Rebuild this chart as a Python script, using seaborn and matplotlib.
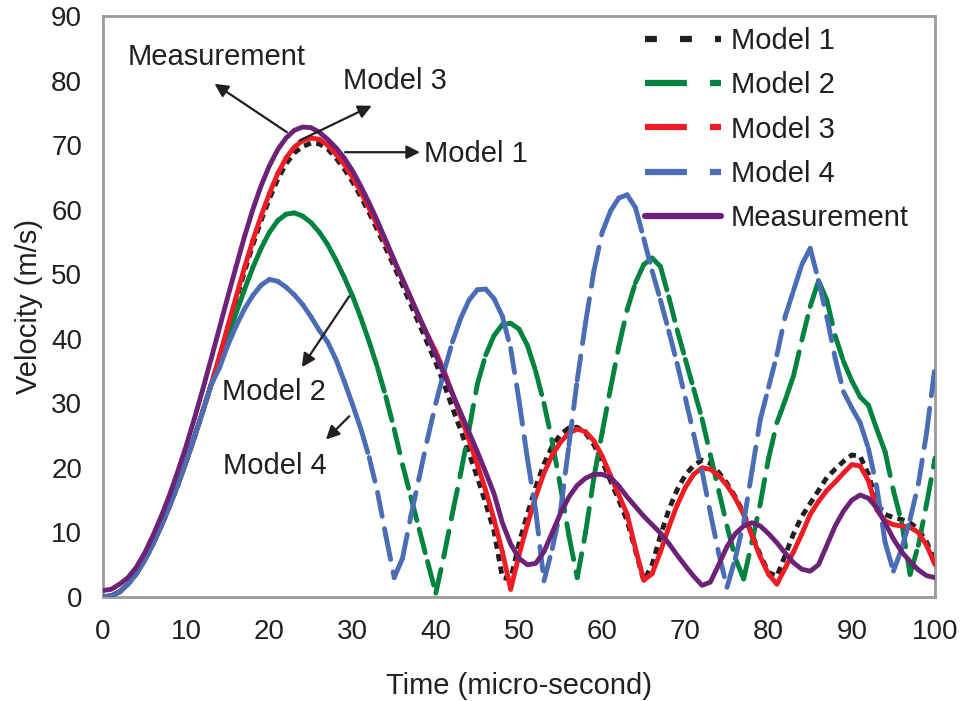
import matplotlib
matplotlib.use("Agg")
import matplotlib.pyplot as plt
from matplotlib.lines import Line2D
import pandas as pd
import seaborn as sns

# ---------------- data ----------------
time_us = list(range(0, 101))

model1 = [0, 0.2, 0.8, 2.0, 3.6, 5.7, 8.2, 11.0, 14.1, 17.4, 21.0, 24.8, 28.8, 32.9,
          37.0, 41.5, 46.0, 50.4, 54.5, 58.3, 61.7, 64.7, 67.1, 68.8, 69.8, 70.3, 70.2,
          69.4, 68.0, 66.3, 64.3, 62.0, 59.5, 56.8, 54.0, 51.2, 48.3, 45.3, 42.3, 39.3,
          36.3, 33.0, 29.3, 25.8, 22.2, 18.5, 14.5, 10.2, 3.0, 2.8, 8.3, 12.8, 17.0,
          20.6, 23.4, 25.2, 26.2, 26.3, 25.4, 23.6, 21.0, 18.0, 15.0, 11.8, 7.2, 2.5,
          5.0, 9.5, 13.5, 16.6, 18.9, 20.4, 21.2, 20.7, 19.3, 17.6, 15.5, 13.0, 9.7,
          6.5, 3.8, 3.2, 6.5, 9.8, 12.5, 14.5, 16.5, 18.5, 19.8, 21.0, 22.0, 21.8,
          19.0, 14.5, 12.8, 12.3, 12.0, 11.5, 10.5, 8.5, 5.5]

model2 = [0, 0.2, 0.8, 2.0, 3.6, 5.7, 8.2, 11.0, 14.1, 17.4, 21.0, 24.8, 28.8, 32.9,
          36.2, 40.2, 44.0, 47.6, 51.0, 54.0, 56.5, 58.3, 59.3, 59.5, 59.0, 58.0, 56.5,
          54.6, 52.2, 49.5, 46.6, 43.2, 39.5, 35.5, 31.0, 26.0, 20.5, 15.5, 10.5, 5.5,
          0.6, 6.5, 13.0, 19.2, 26.0, 33.0, 37.5, 40.5, 42.2, 42.4, 41.5, 39.0, 35.0,
          30.0, 24.0, 17.0, 9.5, 3.0, 10.0, 18.5, 25.5, 32.3, 38.8, 44.5, 48.7, 51.5,
          52.5, 51.2, 46.5, 41.4, 36.8, 32.2, 27.6, 22.0, 16.5, 11.0, 6.0, 2.8, 8.5,
          14.5, 21.5, 27.0, 30.5, 34.3, 39.8, 45.0, 49.0, 46.0, 40.5, 36.5, 33.5, 31.0,
          29.7, 26.0, 22.5, 16.5, 11.5, 3.5, 8.0, 14.5, 21.5]

model3 = [0, 0.2, 0.8, 2.0, 3.6, 5.7, 8.2, 11.0, 14.1, 17.4, 21.0, 24.8, 28.8, 32.9,
          37.3, 41.9, 46.5, 51.0, 55.2, 59.0, 62.5, 65.6, 68.0, 69.7, 70.7, 71.1, 70.9,
          70.0, 68.6, 67.0, 65.0, 62.7, 60.2, 57.5, 54.8, 52.0, 49.2, 46.3, 43.3, 40.6,
          38.0, 35.0, 31.5, 28.0, 24.3, 20.5, 16.5, 12.0, 7.0, 1.2, 6.5, 11.2, 15.5,
          19.2, 22.0, 24.0, 25.4, 26.0, 25.6, 24.2, 21.8, 18.8, 15.8, 12.8, 7.5, 2.6,
          3.6, 7.0, 10.8, 14.2, 17.0, 19.0, 20.0, 19.8, 18.8, 17.3, 15.3, 12.8, 9.5,
          6.2, 3.5, 2.0, 4.5, 7.0, 9.8, 12.8, 14.8, 16.5, 17.8, 19.2, 20.5, 20.3,
          18.0, 13.5, 11.8, 11.2, 11.0, 10.8, 10.0, 8.0, 5.0]

model4 = [0, 0.2, 0.8, 2.0, 3.6, 5.7, 8.2, 11.0, 14.1, 17.4, 21.0, 24.8, 28.8, 32.9,
          35.5, 39.0, 42.0, 44.6, 46.7, 48.3, 49.2, 48.9, 48.0, 46.8, 45.3, 43.4, 41.3,
          39.5, 36.8, 33.4, 29.8, 26.0, 21.6, 16.2, 9.5, 3.0, 6.0, 12.5, 18.5, 24.5,
          30.0, 35.0, 39.5, 43.2, 46.0, 47.6, 47.7, 46.2, 43.5, 38.5, 30.5, 21.5, 13.5,
          2.5, 7.5, 13.5, 23.5, 33.6, 42.5, 50.5, 56.5, 59.8, 61.8, 62.3, 60.3, 55.5,
          50.5, 46.0, 41.2, 36.2, 30.8, 25.2, 19.5, 13.0, 6.8, 1.5, 6.0, 11.5, 19.5,
          27.5, 32.5, 37.5, 43.5, 47.5, 51.5, 54.0, 49.0, 43.4, 37.0, 31.8, 29.3, 27.0,
          23.0, 17.0, 8.5, 4.0, 7.5, 12.0, 17.5, 25.5, 35.7]

measurement = [1.0, 1.2, 2.0, 3.0, 4.6, 6.8, 9.5, 12.5, 15.8, 19.5, 23.4, 27.7, 32.2,
               36.9, 41.7, 46.5, 51.2, 55.8, 60.0, 63.7, 66.8, 69.3, 71.1, 72.3, 72.8,
               72.7, 72.0, 70.9, 69.6, 68.0, 66.0, 63.6, 61.0, 58.2, 55.2, 52.2, 49.2,
               46.3, 43.4, 40.5, 37.5, 34.5, 31.5, 28.5, 25.5, 22.5, 19.3, 16.0, 11.5,
               8.2, 6.0, 5.0, 5.2, 7.0, 10.0, 13.0, 15.5, 17.3, 18.4, 19.0, 19.0, 18.5,
               17.2, 15.5, 14.0, 12.5, 11.2, 9.9, 8.3, 6.5, 4.8, 3.2, 1.8, 2.3, 5.0, 7.8,
               9.8, 11.0, 11.5, 11.0, 9.8, 8.4, 6.8, 5.3, 4.3, 4.0, 5.0, 8.0, 11.0, 13.3,
               15.0, 15.8, 15.3, 13.8, 11.5, 9.0, 7.0, 5.5, 4.2, 3.3, 3.0]

series_names = ["Model 1", "Model 2", "Model 3", "Model 4", "Measurement"]

x_ticks = list(range(0, 101, 10))
y_ticks = list(range(0, 91, 10))

# annotation texts: (label, x, y, ha)
annot_texts = [("Measurement", 13.6, 83.7, "center"),
               ("Model 3", 35.1, 80.0, "center"),
               ("Model 1", 38.6, 68.6, "left"),
               ("Model 2", 20.6, 31.7, "center"),
               ("Model 4", 20.6, 20.3, "center")]
# arrows: (tail_x, tail_y, head_x, head_y)
annot_arrows = [(22.1, 72.0, 13.4, 79.5),
                (23.6, 70.7, 32.3, 76.1),
                (29.1, 68.9, 38.1, 68.9),
                (29.6, 46.6, 23.9, 35.6),
                (29.6, 28.0, 26.8, 24.4)]

# ---------------- style ----------------
C1 = "#231f20"
C2 = "#00833e"
C3 = "#ee1c25"
C4 = "#4a6db5"
C5 = "#6c2377"
TXT = "#231f20"

sns.set_style("white")
plt.rcParams["font.family"] = ["Liberation Sans", "DejaVu Sans"]

fig = plt.figure(figsize=(9.62, 7.01), dpi=100)
ax = fig.add_axes([103 / 962, 1 - 597 / 701, (935 - 103) / 962, (597 - 16) / 701])


def segment_frame(values):
    rows = []
    for i in range(len(time_us) - 1):
        rows.append((time_us[i], values[i], i))
        rows.append((time_us[i + 1], values[i + 1], i))
    return pd.DataFrame(rows, columns=["t", "v", "seg"])


LW = 3.5
# Model 1: regular short dashes
sns.lineplot(x=time_us, y=model1, ax=ax, estimator=None, sort=False,
             color=C1, linewidth=LW, linestyle=(0, (1.5, 1.1)), zorder=2)
# Models 2-4: dash pattern restarting on every data segment (Excel look)
sns.lineplot(data=segment_frame(model2), x="t", y="v", units="seg", estimator=None,
             sort=False, ax=ax, color=C2, linewidth=LW,
             linestyle=(0, (5.0, 2.6)), dash_capstyle="round", zorder=3)
sns.lineplot(data=segment_frame(model3), x="t", y="v", units="seg", estimator=None,
             sort=False, ax=ax, color=C3, linewidth=LW,
             linestyle=(0, (9.0, 2.4)), dash_capstyle="round", zorder=4)
sns.lineplot(data=segment_frame(model4), x="t", y="v", units="seg", estimator=None,
             sort=False, ax=ax, color=C4, linewidth=LW,
             linestyle=(0, (5.0, 2.6)), dash_capstyle="round", zorder=5)
sns.lineplot(x=time_us, y=measurement, ax=ax, estimator=None, sort=False,
             color=C5, linewidth=LW, zorder=6)

ax.set_xlim(0, 100)
ax.set_ylim(0, 90)
ax.set_xticks(x_ticks)
ax.set_yticks(y_ticks)
for s in ax.spines.values():
    s.set_visible(True)
    s.set_color("#9a9a9a")
    s.set_linewidth(2.0)
ax.tick_params(direction="out", length=7, width=1.2, color="#555555",
               labelsize=20, labelcolor=TXT)
ax.tick_params(axis="x", pad=9)
ax.tick_params(axis="y", pad=8)
ax.set_xlabel("Time (micro-second)", fontsize=21, color=TXT, labelpad=19)
ax.set_ylabel("Velocity (m/s)", fontsize=21, color=TXT, labelpad=6)
ax.grid(False)

for label, tx, ty, ha in annot_texts:
    ax.text(tx, ty, label, fontsize=21, color=TXT, ha=ha, va="center", zorder=10)
for x0, y0, x1, y1 in annot_arrows:
    ax.annotate("", xy=(x1, y1), xytext=(x0, y0),
                arrowprops=dict(arrowstyle="-|>", color=TXT, lw=1.6,
                                mutation_scale=20, shrinkA=0, shrinkB=0),
                zorder=10)

handles = [
    Line2D([], [], color=C1, lw=4.5, linestyle=(0, (1.9, 3.7))),
    Line2D([], [], color=C2, lw=4.5, linestyle=(0, (6.7, 3.7))),
    Line2D([], [], color=C3, lw=4.5, linestyle=(0, (6.7, 3.7))),
    Line2D([], [], color=C4, lw=4.5, linestyle=(0, (6.7, 3.7))),
    Line2D([], [], color=C5, lw=4.5),
]
leg = fig.legend(handles, series_names, loc="upper left",
                 bbox_to_anchor=(645 / 962, 1 - 27 / 701), frameon=False,
                 fontsize=21, handlelength=2.6, handletextpad=0.35,
                 labelspacing=0.56, borderpad=0, borderaxespad=0)
for t in leg.get_texts():
    t.set_color(TXT)

fig.savefig("out.png", dpi=100)
